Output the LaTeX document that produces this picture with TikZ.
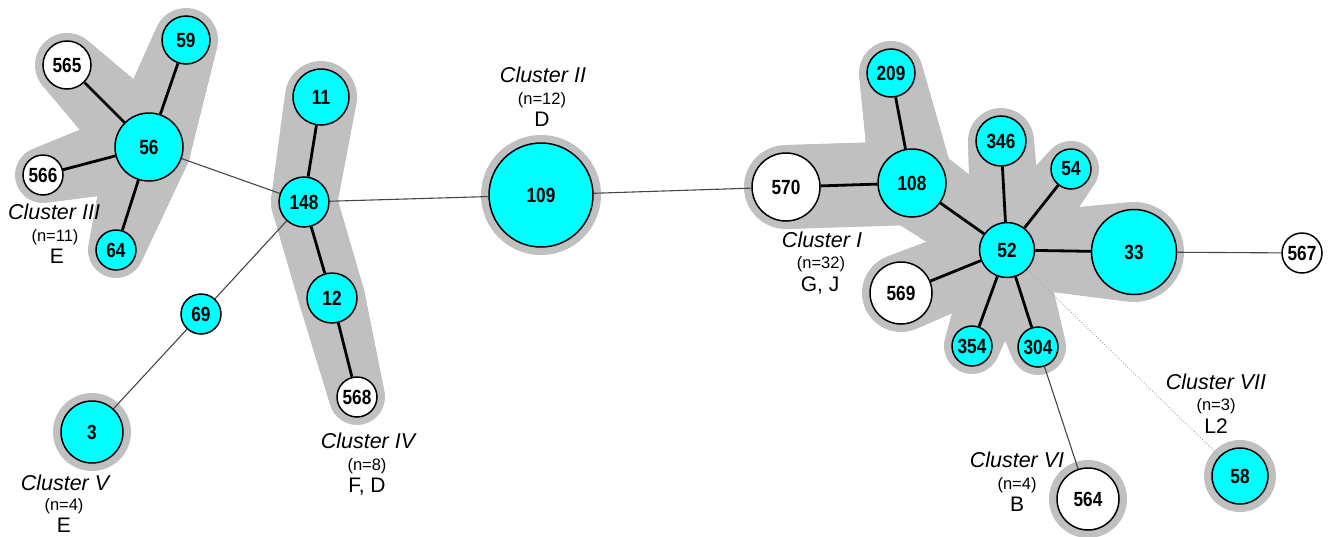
\documentclass[tikz,border=0pt]{standalone}
\usepackage{fontspec}
\setmainfont{Liberation Sans}
\newfontfamily\numfont[FakeStretch=0.84]{Liberation Sans}
\usetikzlibrary{calc,backgrounds}
\definecolor{halo}{RGB}{192,192,192}
\definecolor{nodecyan}{RGB}{0,255,255}
\definecolor{thinline}{RGB}{70,70,70}
\tikzset{
 st/.style={circle,draw=black,line width=1.5pt,fill=nodecyan,inner sep=0pt,minimum size=#1,font=\numfont\fontsize{20.5}{20}\selectfont\bfseries},
 wst/.style={st=#1,fill=white},
 strong/.style={line width=2.8pt,draw=black},
 weak/.style={line width=1.1pt,draw=thinline},
 faint/.style={line width=0.9pt,draw=black!35,dotted},
 clab/.style={anchor=base,inner sep=0pt,font=\fontsize{21.5}{22}\selectfont\itshape},
 nlab/.style={anchor=base,inner sep=0pt,font=\fontsize{16.5}{17}\selectfont},
 tlab/.style={anchor=base,inner sep=0pt,font=\fontsize{21}{22}\selectfont},
}
\newcommand\halonode[2]{\fill[halo] (#1.center) circle[radius={#2*1pt+8pt}];}
\newcommand\halotube[4]{\foreach \t in {0,0.04,...,1.0}{\fill[halo] ($(#1.center)!\t!(#2.center)$) circle[radius={(#3+(#4-#3)*\t)*1pt+8pt}];}}
\begin{document}
\begin{tikzpicture}[x=1pt,y=-1pt]
\useasboundingbox (0,0) rectangle (1333,536);
% nodes
\node[wst=48pt] (n565) at (67,65) {565};
\node[st=48pt] (n59) at (186,40) {59};
\node[st=68pt] (n56) at (149,147) {56};
\node[wst=40pt] (n566) at (43,175) {566};
\node[st=40pt] (n64) at (116,250) {64};
\node[st=56pt] (n11) at (321,97) {11};
\node[st=50pt] (n148) at (304,202) {148};
\node[st=50pt] (n12) at (332,298) {12};
\node[wst=40pt] (n568) at (357,397) {568};
\node[st=40pt] (n69) at (201,314) {69};
\node[st=62pt] (n3) at (92,432) {3};
\node[st=104pt] (n109) at (541,195) {109};
\node[wst=68pt] (n570) at (786,187) {570};
\node[st=68pt] (n108) at (912,183) {108};
\node[st=48pt] (n209) at (891,73) {209};
\node[st=50pt] (n346) at (1001,141) {346};
\node[st=40pt] (n54) at (1071,169) {54};
\node[st=55pt] (n52) at (1007,250) {52};
\node[st=85pt] (n33) at (1134,252) {33};
\node[wst=62pt] (n569) at (901,293) {569};
\node[st=40pt] (n354) at (972,346) {354};
\node[st=40pt] (n304) at (1038,347) {304};
\node[wst=40pt] (n567) at (1302,253) {567};
\node[wst=62pt] (n564) at (1088,499) {564};
\node[st=56pt] (n58) at (1240,476) {58};
% labels
\node[clab] (c3a) at (54,219) {Cluster III};
\node[nlab] (c3b) at (55,241) {(n=11)};
\node[tlab] (c3c) at (57,263) {E};
\node[clab] (c5a) at (65,490) {Cluster V};
\node[nlab] (c5b) at (64,510) {(n=4)};
\node[tlab] (c5c) at (64,532) {E};
\node[clab] (c4a) at (368,448) {Cluster IV};
\node[nlab] (c4b) at (367,470) {(n=8)};
\node[tlab] (c4c) at (367,492) {F, D};
\node[clab] (c2a) at (543,82) {Cluster II};
\node[nlab] (c2b) at (542,104) {(n=12)};
\node[tlab] (c2c) at (542,126) {D};
\node[clab] (c1a) at (822,247) {Cluster I};
\node[nlab] (c1b) at (821,268) {(n=32)};
\node[tlab] (c1c) at (820,291) {G, J};
\node[clab] (c6a) at (1017,467) {Cluster VI};
\node[nlab] (c6b) at (1017,489) {(n=4)};
\node[tlab] (c6c) at (1017,511) {B};
\node[clab] (c7a) at (1216,389) {Cluster VII};
\node[nlab] (c7b) at (1216,410) {(n=3)};
\node[tlab] (c7c) at (1216,433) {L2};
\begin{pgfonlayer}{background}
% halos
\halotube{n56}{n565}{34}{24}
\halotube{n56}{n59}{34}{24}
\halotube{n56}{n566}{34}{20}
\halotube{n56}{n64}{34}{20}
\halotube{n11}{n148}{28}{25}
\halotube{n148}{n12}{25}{25}
\halotube{n12}{n568}{25}{20}
\halonode{n3}{31}
\halonode{n109}{52}
\halotube{n570}{n108}{34}{34}
\halotube{n108}{n209}{34}{24}
\halotube{n108}{n52}{34}{28}
\halotube{n52}{n346}{28}{25}
\halotube{n52}{n54}{28}{20}
\halotube{n52}{n33}{28}{42}
\halotube{n52}{n569}{28}{31}
\halotube{n52}{n354}{28}{20}
\halotube{n52}{n304}{28}{20}
\halonode{n564}{31}
\halonode{n58}{28}
% edges
\draw[strong] (n56) -- (n565);
\draw[strong] (n56) -- (n59);
\draw[strong] (n56) -- (n566);
\draw[strong] (n56) -- (n64);
\draw[strong] (n11) -- (n148);
\draw[strong] (n148) -- (n12);
\draw[strong] (n12) -- (n568);
\draw[strong] (n570) -- (n108);
\draw[strong] (n108) -- (n209);
\draw[strong] (n108) -- (n52);
\draw[strong] (n52) -- (n346);
\draw[strong] (n52) -- (n54);
\draw[strong] (n52) -- (n33);
\draw[strong] (n52) -- (n569);
\draw[strong] (n52) -- (n354);
\draw[strong] (n52) -- (n304);
\draw[weak] (n56) -- (n148);
\draw[weak] (n148) -- (n109);
\draw[weak] (n109) -- (n570);
\draw[weak] (n148) -- (n69);
\draw[weak] (n69) -- (n3);
\draw[weak] (n304) -- (n564);
\draw[weak] (n33) -- (n567);
\draw[faint] (n52) -- (n58);
\end{pgfonlayer}
\end{tikzpicture}
\end{document}
